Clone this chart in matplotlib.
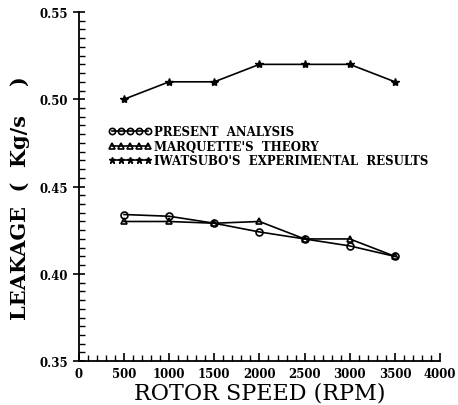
import numpy as np
import matplotlib
matplotlib.use('Agg')
import matplotlib.pyplot as plt
from matplotlib.ticker import MultipleLocator

rpm = [500, 1000, 1500, 2000, 2500, 3000, 3500]
present = [0.434, 0.433, 0.429, 0.424, 0.420, 0.416, 0.410]
marquette = [0.430, 0.430, 0.429, 0.430, 0.420, 0.420, 0.410]
iwatsubo = [0.500, 0.510, 0.510, 0.520, 0.520, 0.520, 0.510]

plt.rcParams['font.family'] = 'DejaVu Serif'

fig = plt.figure(figsize=(4.58, 4.06), dpi=100)
ax = fig.add_axes([0.172, 0.108, 0.789, 0.860])

ax.plot(rpm, present, color='black', lw=1.2, marker='o', ms=5, mfc='none', mew=1.2,
        label="PRESENT  ANALYSIS")
ax.plot(rpm, marquette, color='black', lw=1.2, marker='^', ms=5, mfc='none', mew=1.2,
        label="MARQUETTE'S  THEORY")
ax.plot(rpm, iwatsubo, color='black', lw=1.2, marker='*', ms=6,
        label="IWATSUBO'S  EXPERIMENTAL  RESULTS")

ax.set_xlim(0, 4000)
ax.set_ylim(0.35, 0.55)
ax.xaxis.set_major_locator(MultipleLocator(500))
ax.xaxis.set_minor_locator(MultipleLocator(100))
ax.yaxis.set_major_locator(MultipleLocator(0.05))
ax.yaxis.set_minor_locator(MultipleLocator(0.005))
ax.yaxis.set_major_formatter(plt.FuncFormatter(lambda v, p: f'{v:.2f}'))

ax.spines['top'].set_visible(False)
ax.spines['right'].set_visible(False)
ax.spines['left'].set_linewidth(1.3)
ax.spines['bottom'].set_linewidth(1.3)
ax.tick_params(axis='y', which='major', direction='inout', length=9, width=1.2, labelsize=8.5, pad=3)
ax.tick_params(axis='y', which='minor', direction='in', length=4, width=1)
ax.tick_params(axis='x', which='major', direction='in', length=6, width=1.2, labelsize=8.5, pad=4)
ax.tick_params(axis='x', which='minor', direction='in', length=4, width=1)
for lab in ax.get_xticklabels() + ax.get_yticklabels():
    lab.set_fontweight('bold')

ax.set_xlabel('ROTOR SPEED (RPM)', fontsize=16, labelpad=1)
ax.set_ylabel('LEAKAGE  (  Kg/s    )', fontsize=15, fontweight='bold')
ax.yaxis.set_label_coords(-0.135, 0.47)

leg = ax.legend(loc='upper left', bbox_to_anchor=(0.083, 0.675), frameon=False,
                numpoints=5, handlelength=3.6, handletextpad=0.2, labelspacing=0.12,
                borderpad=0, borderaxespad=0, prop={'size': 8.5, 'weight': 'bold'})
for h in leg.legend_handles:
    h.set_markersize(4.5)

fig.savefig('out.png', dpi=100)
